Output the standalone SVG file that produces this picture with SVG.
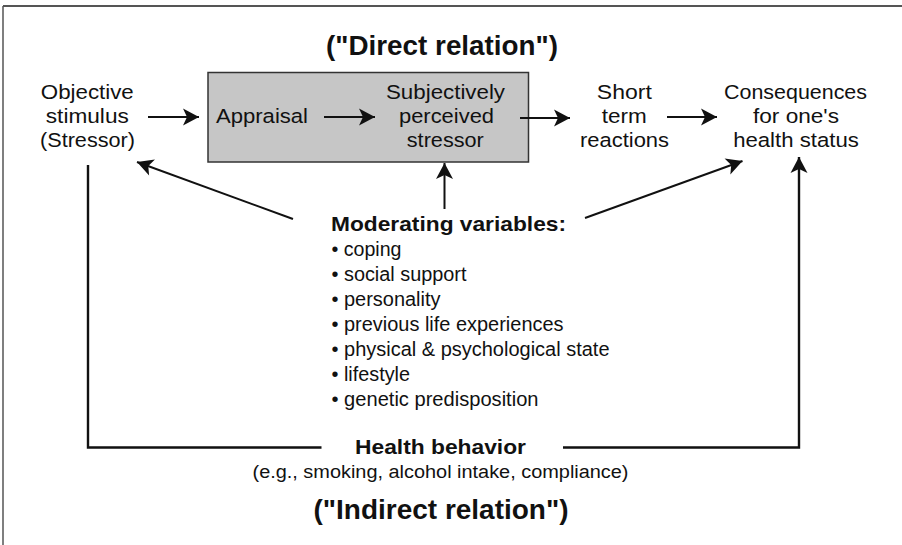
<svg xmlns="http://www.w3.org/2000/svg" width="902" height="545" viewBox="0 0 902 545">
<style>
text{font-family:"Liberation Sans",Arial,Helvetica,sans-serif;fill:#111}
.n{font-size:20.5px;text-anchor:middle}
.b{font-weight:bold}
.t{font-size:27px;font-weight:bold;text-anchor:middle}
.li{font-size:19.5px}
.c{fill:none;stroke:#111;stroke-width:2}
.br{fill:none;stroke:#111;stroke-width:2.4}
</style>
<defs>
<marker id="ah" markerUnits="userSpaceOnUse" markerWidth="20" markerHeight="20" viewBox="-17 -10 18 20" refX="0" refY="0" orient="auto">
<path d="M0,0 L-16,-8.5 L-12,0 L-16,8.5 Z" fill="#111"/>
</marker>
</defs>
<rect width="902" height="545" fill="#fff"/>
<g id="frame">
<line x1="3" y1="6" x2="902" y2="6" stroke="#555" stroke-width="2.2"/>
<line x1="3" y1="6" x2="3" y2="545" stroke="#555" stroke-width="1.5"/>
</g>
<g id="title-direct"><text class="t" x="442" y="55" textLength="232" lengthAdjust="spacingAndGlyphs">("Direct relation")</text></g>
<g id="stressor">
<text class="n" x="87.3" y="99" textLength="93" lengthAdjust="spacingAndGlyphs">Objective</text>
<text class="n" x="87.3" y="123" textLength="83" lengthAdjust="spacingAndGlyphs">stimulus</text>
<text class="n" x="87.5" y="147" textLength="95" lengthAdjust="spacingAndGlyphs">(Stressor)</text>
</g>
<g id="box">
<rect x="208" y="72.5" width="320.5" height="89.5" fill="#c6c6c6" stroke="#333" stroke-width="1.5"/>
</g>
<g id="appraisal"><text class="n" x="262" y="123" textLength="92" lengthAdjust="spacingAndGlyphs">Appraisal</text></g>
<g id="perceived">
<text class="n" x="445.5" y="99" textLength="119" lengthAdjust="spacingAndGlyphs">Subjectively</text>
<text class="n" x="446.5" y="123" textLength="95" lengthAdjust="spacingAndGlyphs">perceived</text>
<text class="n" x="445.3" y="147" textLength="77" lengthAdjust="spacingAndGlyphs">stressor</text>
</g>
<g id="short">
<text class="n" x="624.3" y="99" textLength="55" lengthAdjust="spacingAndGlyphs">Short</text>
<text class="n" x="624.2" y="123" textLength="45" lengthAdjust="spacingAndGlyphs">term</text>
<text class="n" x="624.5" y="147" textLength="89" lengthAdjust="spacingAndGlyphs">reactions</text>
</g>
<g id="consequences">
<text class="n" x="795.5" y="99" textLength="143" lengthAdjust="spacingAndGlyphs">Consequences</text>
<text class="n" x="796" y="123" textLength="86" lengthAdjust="spacingAndGlyphs">for one's</text>
<text class="n" x="796" y="147" textLength="125.7" lengthAdjust="spacingAndGlyphs">health status</text>
</g>
<g id="moderating">
<text class="b" x="331" y="231" font-size="21" textLength="235" lengthAdjust="spacingAndGlyphs">Moderating variables:</text>
<text class="li" x="331.5" y="256" textLength="70" lengthAdjust="spacingAndGlyphs">• coping</text>
<text class="li" x="331.5" y="281" textLength="135" lengthAdjust="spacingAndGlyphs">• social support</text>
<text class="li" x="331.5" y="306" textLength="109" lengthAdjust="spacingAndGlyphs">• personality</text>
<text class="li" x="331.5" y="331" textLength="232" lengthAdjust="spacingAndGlyphs">• previous life experiences</text>
<text class="li" x="331.5" y="356" textLength="278" lengthAdjust="spacingAndGlyphs">• physical &amp; psychological state</text>
<text class="li" x="331.5" y="381" textLength="78.5" lengthAdjust="spacingAndGlyphs">• lifestyle</text>
<text class="li" x="331.5" y="406" textLength="207" lengthAdjust="spacingAndGlyphs">• genetic predisposition</text>
</g>
<g id="health-behavior">
<text class="b" x="440.5" y="453.5" font-size="21" text-anchor="middle" textLength="171" lengthAdjust="spacingAndGlyphs">Health behavior</text>
<text x="440.5" y="478" font-size="18" text-anchor="middle" textLength="376" lengthAdjust="spacingAndGlyphs">(e.g., smoking, alcohol intake, compliance)</text>
</g>
<g id="title-indirect"><text class="t" x="441" y="519" textLength="255" lengthAdjust="spacingAndGlyphs">("Indirect relation")</text></g>
<g id="connectors">
<line class="c" x1="148" y1="117" x2="199" y2="117" marker-end="url(#ah)"/>
<line class="c" x1="324" y1="117" x2="375" y2="117" marker-end="url(#ah)"/>
<line class="c" x1="520" y1="118" x2="570" y2="118" marker-end="url(#ah)"/>
<line class="c" x1="667" y1="117" x2="717" y2="117" marker-end="url(#ah)"/>
<line class="c" x1="444.5" y1="209" x2="444.5" y2="163" marker-end="url(#ah)"/>
<line class="c" x1="293" y1="219" x2="137" y2="162" marker-end="url(#ah)"/>
<line class="c" x1="585" y1="218" x2="742.5" y2="161" marker-end="url(#ah)"/>
<path class="br" d="M88,165 V447.5 H321.5"/>
<path class="br" d="M563,447.5 H799 V157" marker-end="url(#ah)"/>
</g>
</svg>
